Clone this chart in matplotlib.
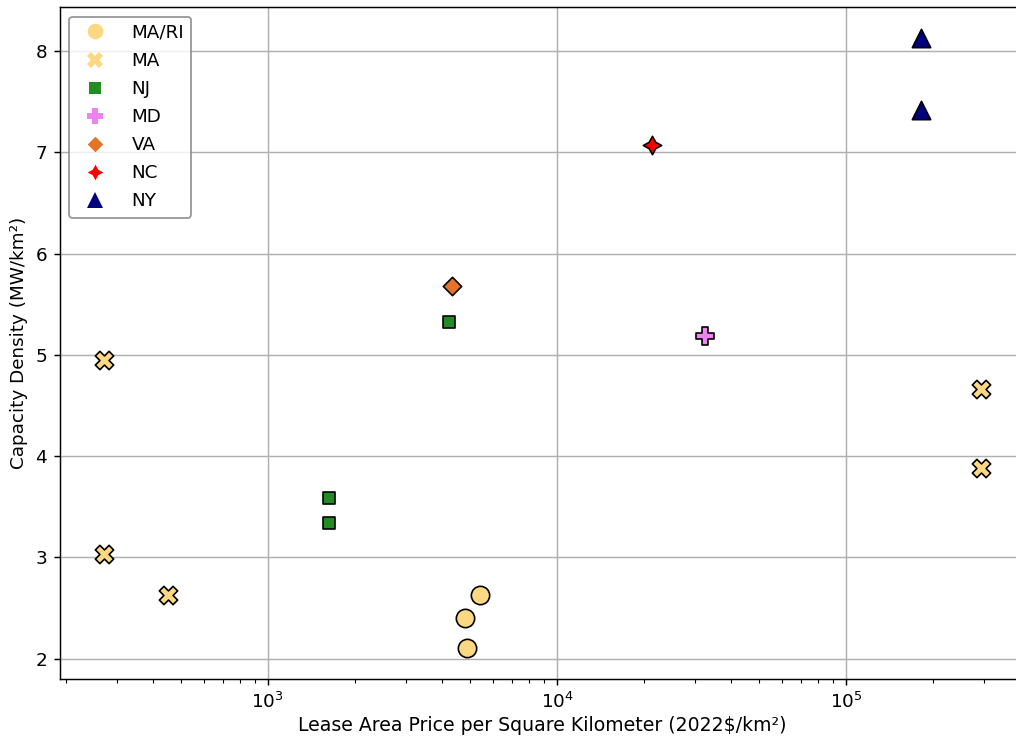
import numpy as np
import matplotlib.pyplot as plt
from matplotlib.lines import Line2D

# price in 2022$/km2, capacity density in MW/km2
states = ['MA/RI', 'MA', 'NJ', 'MD', 'VA', 'NC', 'NY']
price = {
    'MA/RI': [5415, 4805, 4880],
    'MA': [271, 271, 451, 293000, 293000],
    'NJ': [4230, 1626, 1626],
    'MD': [32500],
    'VA': [4330],
    'NC': [21300],
    'NY': [181800, 181800],
}
density = {
    'MA/RI': [2.63, 2.40, 2.10],
    'MA': [4.95, 3.03, 2.63, 4.66, 3.88],
    'NJ': [5.32, 3.59, 3.34],
    'MD': [5.19],
    'VA': [5.68],
    'NC': [7.07],
    'NY': [8.13, 7.42],
}
colors = {'MA/RI': '#FDD882', 'MA': '#FDD882', 'NJ': '#228B22', 'MD': '#EE82EE',
          'VA': '#E3742A', 'NC': '#FF0000', 'NY': '#000080'}
markers = {'MA/RI': 'o', 'MA': 'X', 'NJ': (4, 0, 45), 'MD': 'P',
           'VA': (4, 0, 0), 'NC': (4, 1, 0), 'NY': '^'}

dpi = 132
fig, ax = plt.subplots(figsize=(1016 / dpi, 738 / dpi), dpi=dpi)
# right edge of the axes runs a bit past the image, as in the original crop
fig.subplots_adjust(left=0.059, right=1.009, top=0.99, bottom=0.08)

handles = []
for st in states:
    ax.scatter(price[st], density[st], s=100, c=colors[st], marker=markers[st],
               edgecolors='black', linewidths=0.9, zorder=3)
    handles.append(Line2D([], [], linestyle='', marker=markers[st], color=colors[st],
                          markersize=8.5, markeredgewidth=0, label=st))

ax.set_xscale('log')
ax.grid(True, which='major', color='#b0b0b0', linewidth=0.8, zorder=0)
ax.set_axisbelow(True)
ax.set_xlabel('Lease Area Price per Square Kilometer (2022$/km²)', fontsize=10.3, labelpad=2)
ax.set_ylabel('Capacity Density (MW/km²)')
ax.legend(handles=handles, loc='upper left', framealpha=0.8, edgecolor='gray',
          handletextpad=1.0, labelspacing=0.55)

fig.savefig('out.png', dpi=dpi)
